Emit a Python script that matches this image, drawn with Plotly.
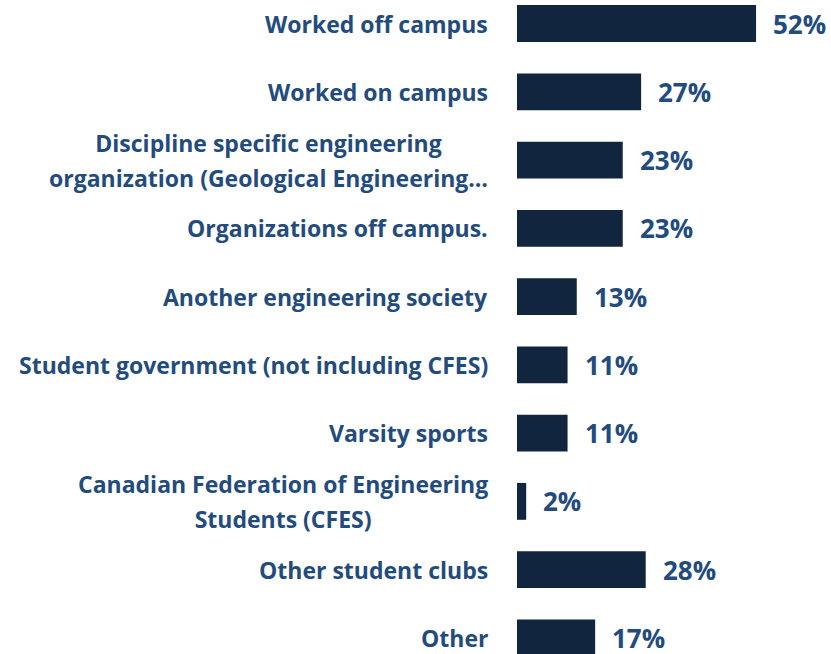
import plotly.graph_objects as go

categories = [
    "Worked off campus",
    "Worked on campus",
    "Discipline specific engineering<br>organization (Geological Engineering…",
    "Organizations off campus.",
    "Another engineering society",
    "Student government (not including CFES)",
    "Varsity sports",
    "Canadian Federation of Engineering<br>Students (CFES)",
    "Other student clubs",
    "Other",
]
values = [52, 27, 23, 23, 13, 11, 11, 2, 28, 17]

bar_color = "#12253F"
text_color = "#234B7D"
font_family = "Open Sans"

fig = go.Figure()
fig.add_trace(go.Bar(
    x=values,
    y=list(range(len(values))),
    orientation="h",
    marker=dict(color=bar_color, line=dict(width=0)),
    hoverinfo="skip",
))

for i, (cat, v) in enumerate(zip(categories, values)):
    # outer font size sets the line spacing, inner span the glyph size
    fig.add_annotation(
        x=0, y=i, xref="x", yref="y",
        text="<b><span style='font-size:23px'>%s</span></b>" % cat.replace(
            "<br>", "</span><br><span style='font-size:23px'>"),
        xanchor="right", yanchor="middle", align="center", xshift=-27,
        showarrow=False, font=dict(family=font_family, size=27, color=text_color),
    )
    fig.add_annotation(
        x=v, y=i, xref="x", yref="y", text="<b>%d%%</b>" % v,
        xanchor="left", yanchor="middle", xshift=15,
        showarrow=False, font=dict(family=font_family, size=26, color=text_color),
    )

fig.update_layout(
    width=831, height=654,
    margin=dict(l=517, r=0, t=0, b=0),
    paper_bgcolor="white", plot_bgcolor="white",
    bargap=0.46,
    showlegend=False,
    xaxis=dict(range=[0, 68.3], visible=False),
    yaxis=dict(range=[9.236, -0.345], visible=False),
)

# drop the default body margin so the figure fills the window exactly
fig.write_html("out.html", config={"displayModeBar": False, "staticPlot": True},
               post_script="document.body.style.margin='0';document.body.style.overflow='hidden';")
